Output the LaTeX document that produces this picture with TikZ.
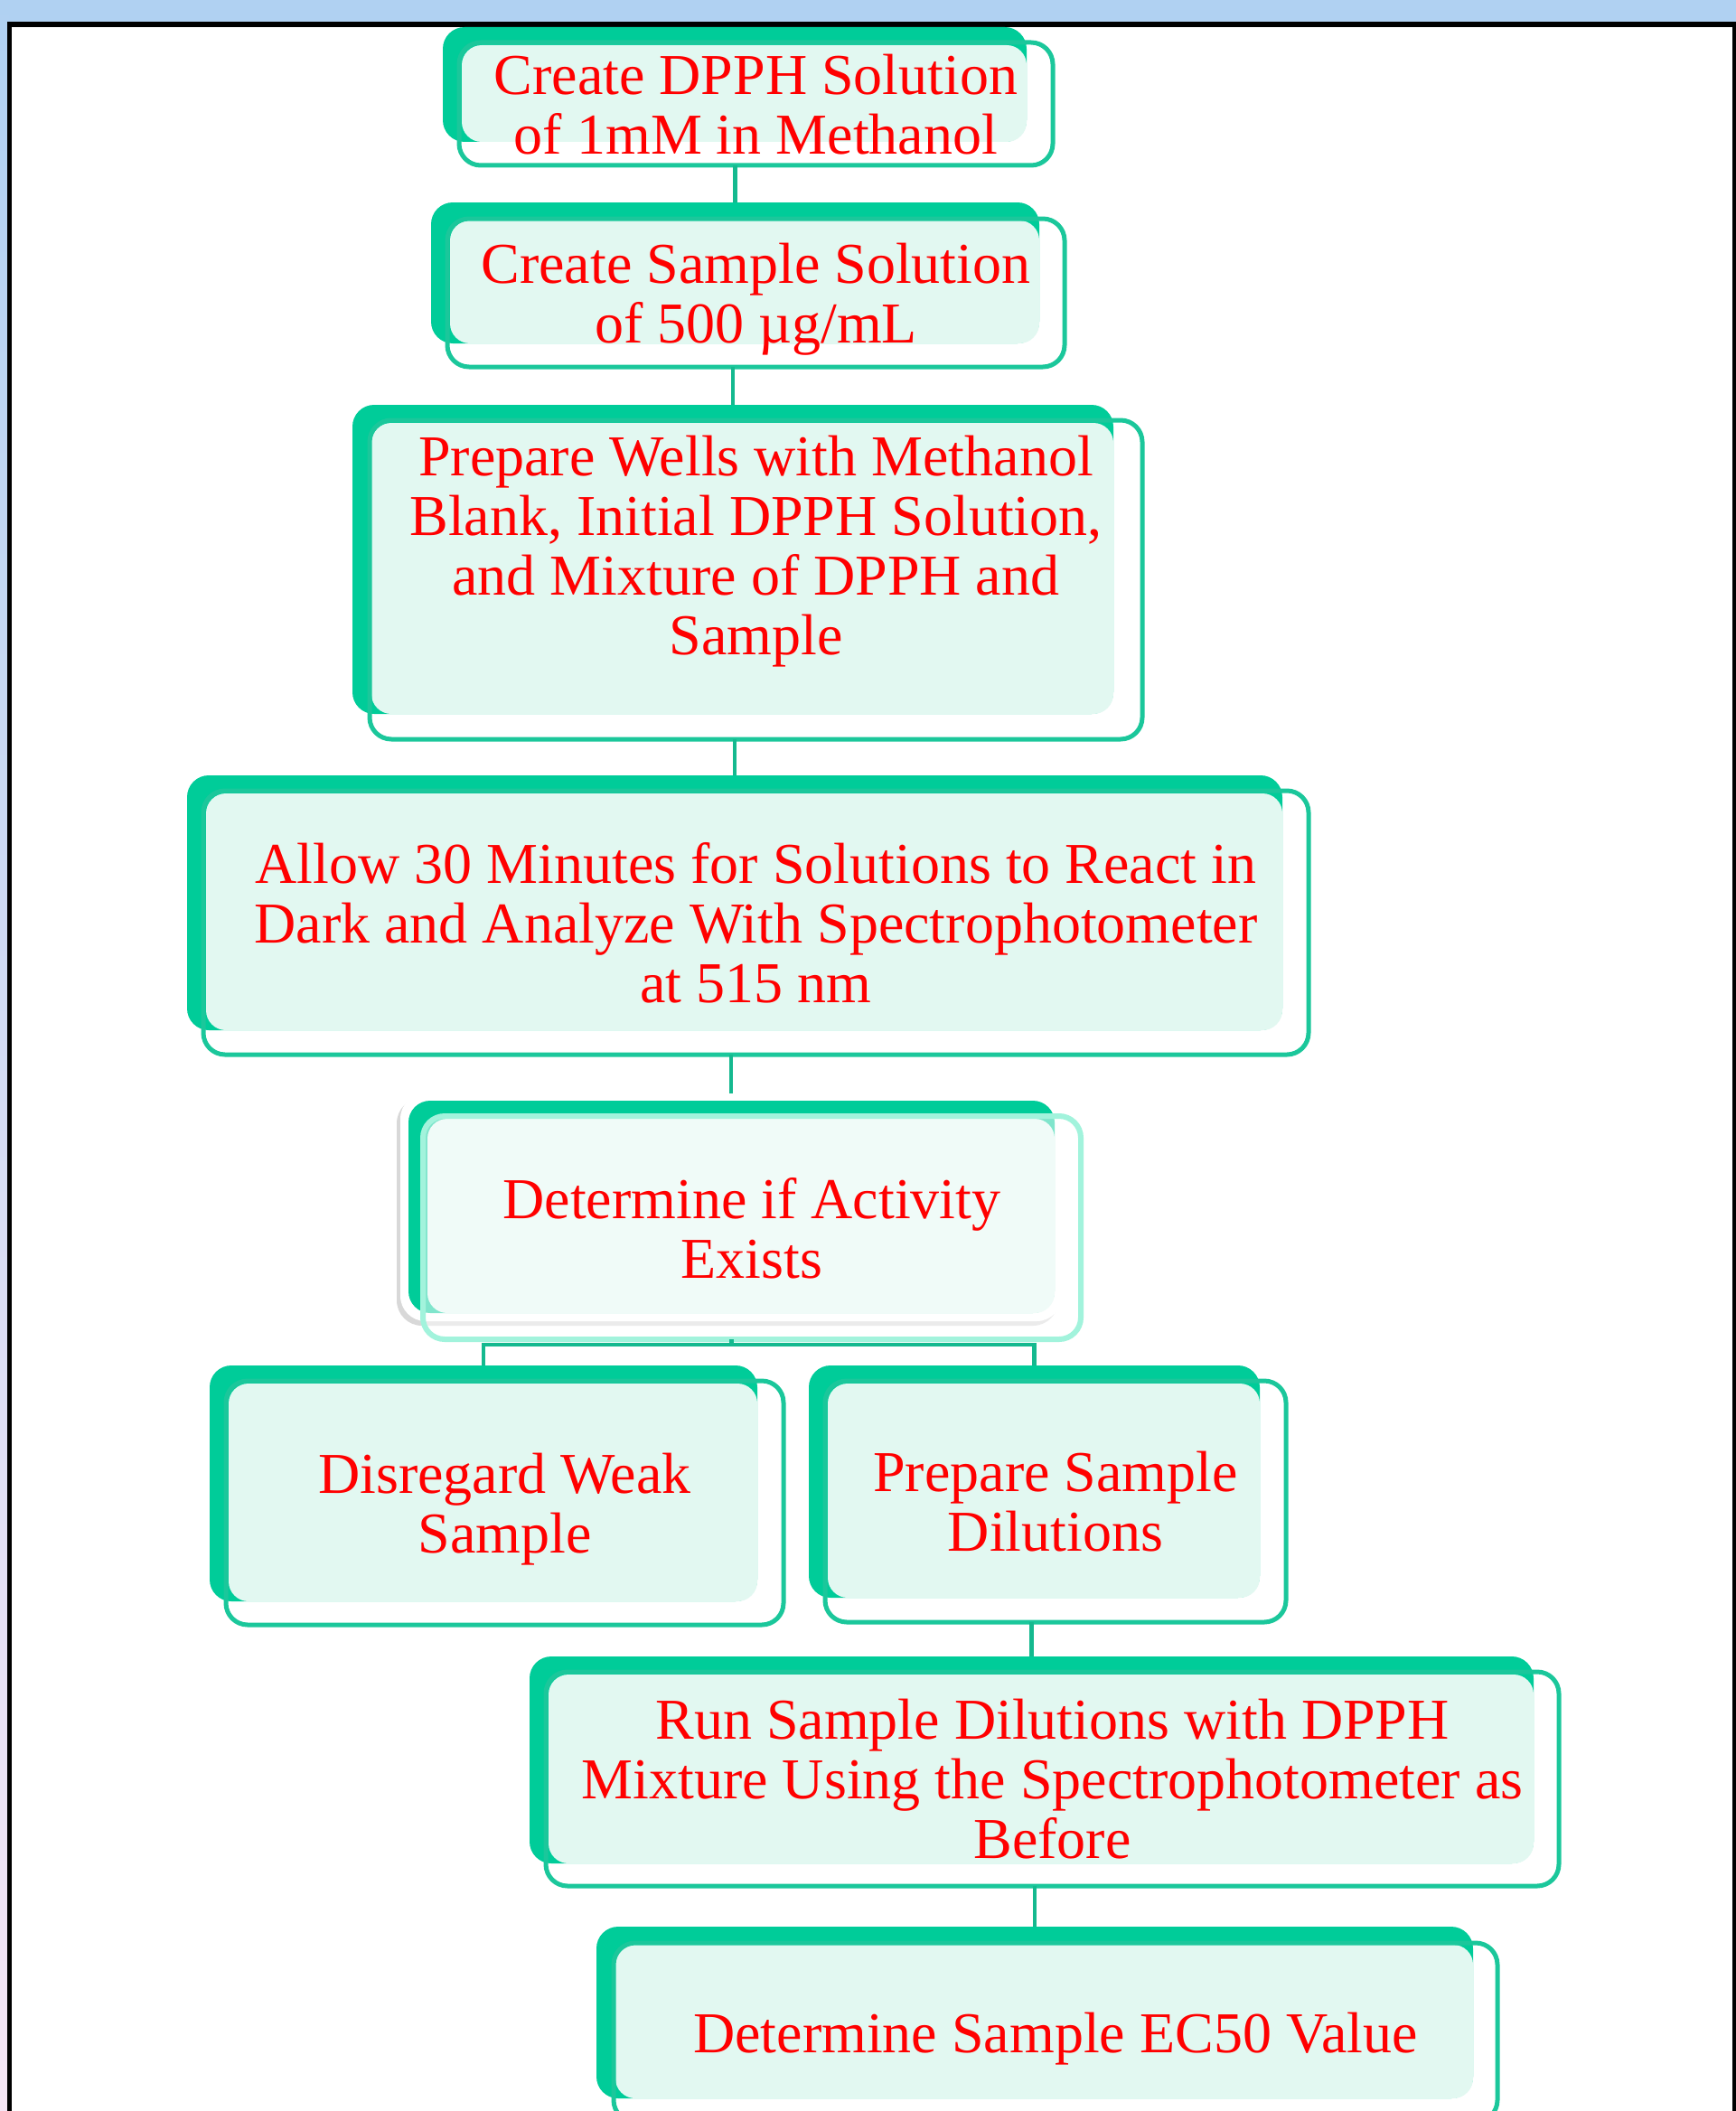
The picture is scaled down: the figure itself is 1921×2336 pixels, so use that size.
\documentclass[tikz,border=0pt]{standalone}
\usepackage{fontspec}
\setmainfont{Liberation Serif}
\usetikzlibrary{shadows}

\definecolor{backgreen}{HTML}{00CC99}
\definecolor{rimgreen}{HTML}{1BC79B}
\definecolor{tintgreen}{HTML}{E2F8F1}
\definecolor{linkgreen}{HTML}{14B98F}
\definecolor{glowgreen}{HTML}{A2F3DC}
\definecolor{skyband}{HTML}{B0D1F2}
\definecolor{pinkband}{HTML}{F6E6F6}

\tikzset{
    words/.style={font=\fontsize{64}{66}\selectfont, text=red, align=center, text depth=0pt},
    back/.style={rounded corners=24pt, fill=backgreen, inner sep=0pt, outer sep=0pt},
    halo/.style={rounded corners=28pt, fill=white, inner sep=0pt, outer sep=0pt,
        drop shadow={shadow xshift=-4pt, shadow yshift=-5pt, opacity=0.3}},
    front/.style={rounded corners=24pt, draw=rimgreen, line width=5pt, inner sep=0pt, outer sep=0pt, words},
    glow/.style={front, draw=glowgreen, line width=6pt, fill=white, fill opacity=0.5, text opacity=1},
    tint/.style={fill=tintgreen, rounded corners=22pt},
    link/.style={draw=linkgreen, line width=4.5pt},
}

\begin{document}
\begin{tikzpicture}[x=1pt, y=-1pt]
    \useasboundingbox (0,0) rectangle (1921,2336);
    \clip (0,0) rectangle (1921,2336);
    % page frame
    \fill[skyband] (0,0) rectangle (1921,2336);
    \shade[top color=skyband, bottom color=pinkband] (0,0) rectangle (10,2336);
    \draw[fill=white, line width=5.5pt] (10.5,27) rectangle (1919.5,2400);

    % back panels
    \node[back, minimum width=646pt, minimum height=127pt] (b1) at (813,93.5) {};
    \node[back, minimum width=673pt, minimum height=156pt] (b2) at (813.5,302) {};
    \node[back, minimum width=842pt, minimum height=342pt] (b3) at (811,619) {};
    \node[back, minimum width=1212pt, minimum height=282pt] (b4) at (813,999) {};
    \node[halo, minimum width=732pt, minimum height=252pt] (h5) at (809,1336) {};
    \node[back, minimum width=715pt, minimum height=235pt] (b5) at (809.5,1335.5) {};
    \node[back, minimum width=606pt, minimum height=261pt] (b6) at (535,1641.5) {};
    \node[back, minimum width=499pt, minimum height=257pt] (b7) at (1144.5,1639.5) {};
    \node[back, minimum width=1111pt, minimum height=229pt] (b8) at (1141.5,1947.5) {};
    \node[back, minimum width=970pt, minimum height=190pt] (b9) at (1145,2227) {};

    \foreach \b in {b1,b2,b3,b4,b5,b6,b7,b8,b9}
        \fill[tint] ([shift={(21,20)}]\b.north west) rectangle (\b.south east);

    % steps
    \node[front, minimum width=657pt, minimum height=136pt] (s1) at (836.5,115)
        {Create DPPH Solution\\of 1mM in Methanol};
    \node[front, minimum width=683pt, minimum height=164pt] (s2) at (836.5,324)
        {Create Sample Solution\\of 500 µg/mL};
    \node[front, minimum width=855pt, minimum height=353pt] (s3) at (836.5,641.5)
        [label={[words, yshift=38pt]center:{Prepare Wells with Methanol\\Blank, Initial DPPH Solution,\\and Mixture of DPPH and\\Sample}}] {};
    \node[front, minimum width=1223pt, minimum height=292pt] (s4) at (836.5,1021)
        {Allow 30 Minutes for Solutions to React in\\Dark and Analyze With Spectrophotometer\\at 515 nm};
    \node[glow, minimum width=728pt, minimum height=247pt] (s5) at (832,1358.5)
        {Determine if Activity\\Exists};
    \node[front, minimum width=617pt, minimum height=270pt] (s6) at (558.5,1663)
        {Disregard Weak\\Sample};
    \node[front, minimum width=510pt, minimum height=267pt] (s7) at (1168,1661.5)
        {Prepare Sample\\Dilutions};
    \node[front, minimum width=1121pt, minimum height=237pt] (s8) at (1164.5,1968.5)
        {Run Sample Dilutions with DPPH\\Mixture Using the Spectrophotometer as\\Before};
    \node[front, minimum width=978pt, minimum height=198pt] (s9) at (1168,2249)
        {Determine Sample EC50 Value};

    \coordinate (fork) at (809.5,1488);
    \draw[link]
    (s1.south -| b2.north) edge (b2.north)
    (s2.south -| b3.north) edge (b3.north)
    (s3.south -| b4.north) edge (b4.north)
    (s4.south -| h5.north) edge (h5.north)
    (s5.south -| fork) edge (fork)
    (s7.south -| b8.north) edge (b8.north)
    (s8.south -| b9.north) edge (b9.north)
;
    \draw[link] (b6.north) |- (fork) -| (b7.north);

\end{tikzpicture}
\end{document}
